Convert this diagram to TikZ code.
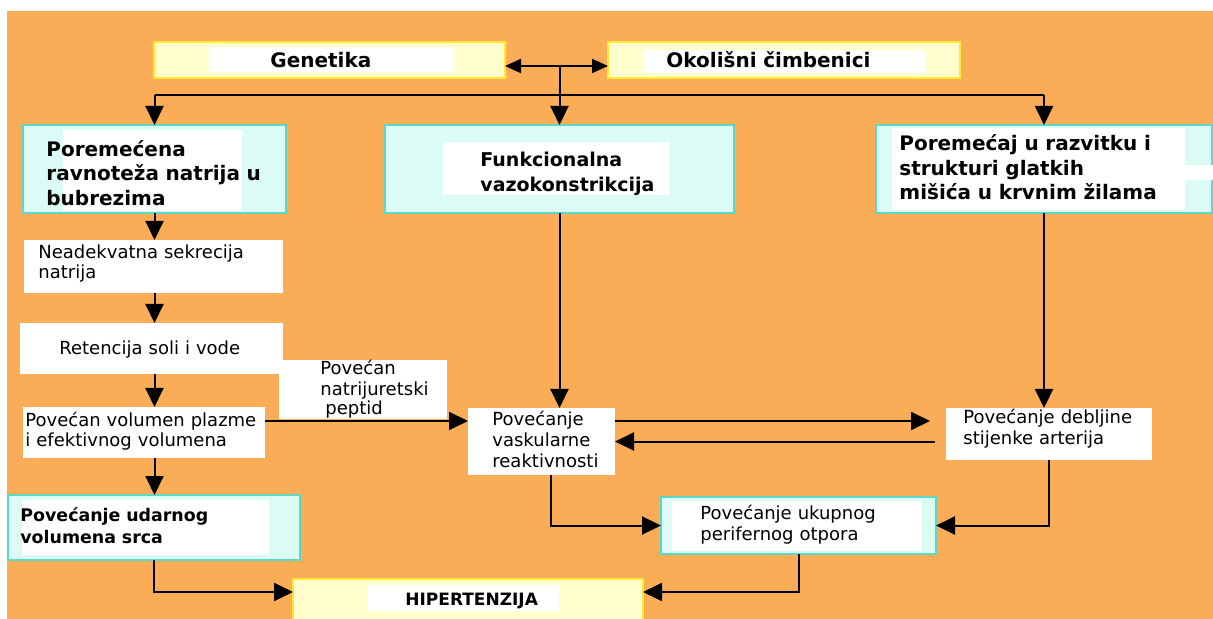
\documentclass[tikz,border=0pt]{standalone}
\usepackage{fontspec}
\setmainfont{DejaVu Sans}
\usetikzlibrary{arrows.meta,calc}
\definecolor{narancasta}{RGB}{250,172,86}
\definecolor{zuta}{RGB}{255,255,206}
\definecolor{zutirub}{RGB}{255,234,50}
\definecolor{tirkizna}{RGB}{218,252,244}
\definecolor{tirkrub}{RGB}{92,216,198}
\begin{document}
\begin{tikzpicture}[x=0.5pt,y=-0.5pt,
  kutija/.style={anchor=north west,inner sep=0,outer sep=0},
  zuti/.style={kutija,draw=zutirub,fill=zuta,line width=1.2pt},
  tirk/.style={kutija,draw=tirkrub,fill=tirkizna,line width=1.2pt},
  bijeli/.style={kutija,fill=white},
  tekst/.style={anchor=base west,inner sep=0,text width=200pt,align=left,font=\fontsize{9}{10.25}\selectfont},
  podebljan/.style={tekst,font=\fontsize{10}{12.2}\selectfont\bfseries},
  strelica/.style={line width=1pt,-{Triangle[length=9.5pt,width=9pt]}}]
%\draw[very thin, gray] (0,0) grid[step=50] (1213,619);
\useasboundingbox (0,0) rectangle (1213,619);
\fill[narancasta] (7,11) rectangle (1213,619);
% gornji red
\node[zuti,minimum width=175.5pt,minimum height=18pt] (gen) at (154,42) {};
\fill[white] (209,47) rectangle (454,72);
\node[podebljan] (t-gen) at (270,67.5) {Genetika};
\node[zuti,minimum width=176pt,minimum height=18pt] (oko) at (608,42) {};
\fill[white] (643,50) rectangle (925,73);
\node[podebljan] (t-oko) at (666,67.5) {Okolišni čimbenici};
% tri uzroka
\node[tirk,minimum width=131.5pt,minimum height=44pt] (nat) at (23,125) {};
\fill[white] (63,130) rectangle (242,211);
\node[podebljan] (t-nat) at (46,156.5) {Poremećena\\ravnoteža natrija u\\bubrezima};
\node[tirk,minimum width=174.5pt,minimum height=44pt] (fun) at (385,125) {};
\fill[white] (443,142) rectangle (670,195);
\node[podebljan,font=\fontsize{9.5}{12.5}\selectfont\bfseries] (t-fun) at (480,167) {Funkcionalna\\vazokonstrikcija};
\node[tirk,minimum width=168pt,minimum height=44pt] (glm) at (876,125) {};
\fill[white] (892,128) rectangle (1185,210);
\fill[white] (1185,165) rectangle (1213,180);
\node[podebljan,font=\fontsize{10}{12.3}\selectfont\bfseries] (t-glm) at (899,150.5) {Poremećaj u razvitku i\\strukturi glatkih\\mišića u krvnim žilama};
% lijevi stupac
\node[bijeli,minimum width=129.5pt,minimum height=26.5pt] (sek) at (24,240) {};
\node[tekst,font=\fontsize{9}{10}\selectfont] (t-sek) at (38,259) {Neadekvatna sekrecija\\natrija};
\node[bijeli,minimum width=131.5pt,minimum height=25.5pt] (ret) at (20,323) {};
\node[tekst] (t-ret) at (59,355) {Retencija soli i vode};
\node[bijeli,minimum width=84pt,minimum height=29.5pt] (pep) at (279,360) {};
\node[tekst,font=\fontsize{9}{10}\selectfont] (t-pep) at (320,375) {Povećan\\natrijuretski\\\hspace*{2.5pt}peptid};
\node[bijeli,minimum width=121pt,minimum height=25.5pt] (vol) at (23,407) {};
\node[tekst,font=\fontsize{9}{10}\selectfont] (t-vol) at (25,426) {Povećan volumen plazme\\i efektivnog volumena};
\node[tirk,minimum width=146pt,minimum height=32.5pt] (udr) at (8,495) {};
\fill[white] (22,500) rectangle (269,555);
\node[podebljan,font=\fontsize{8.7}{11}\selectfont\bfseries] (t-udr) at (20,521) {Povećanje udarnog\\volumena srca};
% sredina i desno
\node[bijeli,minimum width=73.5pt,minimum height=33.5pt] (vas) at (468,408) {};
\node[tekst,font=\fontsize{9}{10.5}\selectfont] (t-vas) at (492,425) {Povećanje\\vaskularne\\reaktivnosti};
\node[bijeli,minimum width=103pt,minimum height=26pt] (deb) at (946,408) {};
\node[tekst,font=\fontsize{9}{10.5}\selectfont] (t-deb) at (963,423) {Povećanje debljine\\stijenke arterija};
\node[tirk,minimum width=137.5pt,minimum height=28.5pt] (ukp) at (661,497) {};
\fill[white] (672,501) rectangle (922,551);
\node[tekst,font=\fontsize{9}{10.5}\selectfont] (t-ukp) at (700,519) {Povećanje ukupnog\\perifernog otpora};
\node[zuti,minimum width=175pt,minimum height=21pt] (hip) at (293,579) {};
\fill[white] (367,585) rectangle (559,611);
\node[podebljan,font=\fontsize{8.5}{10}\selectfont\bfseries] (t-hip) at (405,605) {HIPERTENZIJA};
% strelice gore
\coordinate (g1) at ([yshift=-3pt]gen.east);
\coordinate (o1) at ([yshift=-3pt]oko.west);
\draw[line width=1pt,{Triangle[length=8pt,width=7pt]}-{Triangle[length=8pt,width=7pt]}] (g1) -- (o1);
\coordinate (spoj) at ($(fun.north)+(0,-30)$);
\draw[line width=1pt] (g1 -| fun.north) -- (spoj);
\draw[line width=1pt] (spoj -| nat.north) -- (spoj -| glm.north);
\draw[strelica] (spoj -| nat.north) -- (nat.north);
\draw[strelica] (spoj) -- (fun.north);
\draw[strelica] (spoj -| glm.north) -- (glm.north);
% lijevi stupac
\draw[strelica] (nat.south) -- (nat.south |- sek.north);
\draw[strelica] (sek.south -| nat.south) -- (ret.north -| nat.south);
\draw[strelica] (ret.south -| nat.south) -- (vol.north -| nat.south);
\draw[strelica] (vol.south -| nat.south) -- (udr.north -| nat.south);
% sredina
\coordinate (v1) at ([yshift=5.75pt]vol.east);
\draw[strelica] (v1) -- (v1 -| vas.west);
\draw[strelica] (fun.south) -- (fun.south |- vas.north);
\draw[strelica] (glm.south) -- (glm.south |- deb.north);
\draw[strelica,shorten >=8pt] (v1 -| vas.east) -- (v1 -| deb.west);
\draw[strelica,shorten <=5.5pt] (vas.east -| deb.west) -- (vas.east);
\draw[strelica] ([xshift=4.75pt]vas.south) |- (ukp.west);
\draw[strelica] (deb.south) |- (ukp.east);
% prema hipertenziji
\coordinate (h1) at ([yshift=4pt]hip.west);
\coordinate (h2) at ([yshift=4pt]hip.east);
\draw[strelica] (udr.south) |- (h1);
\draw[strelica] (ukp.south) |- (h2);
\end{tikzpicture}
\end{document}
